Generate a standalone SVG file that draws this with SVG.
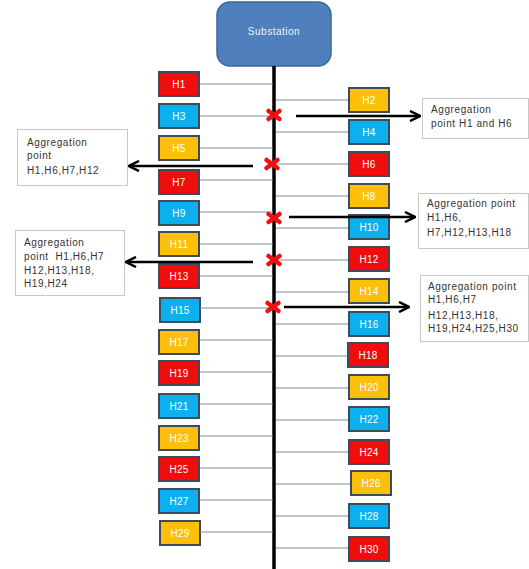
<svg xmlns="http://www.w3.org/2000/svg" width="529" height="569" viewBox="0 0 529 569">
<defs>
<style>
.bx{stroke:#3e4b5b;stroke-width:2}
.r{fill:#f20d0d}.b{fill:#0cb0ee}.y{fill:#fdc00a}
.lbl{font-family:"Liberation Sans",Arial,sans-serif;font-size:10px;fill:#fff;text-anchor:middle;letter-spacing:0.3px}
.fd{stroke:#7a8fa6;stroke-width:1.2;fill:none}
.bus{stroke:#000;stroke-width:3.5;fill:none}
.ar{stroke:#000;stroke-width:2.5;fill:none}
.x{stroke:#f01010;stroke-width:4.5;stroke-linecap:round}
.co{fill:#fff;stroke:#c8c8c8;stroke-width:1}
.ct{font-family:"Liberation Sans",Arial,sans-serif;font-size:10px;fill:#333;letter-spacing:0.6px;white-space:pre}
</style>
<marker id="ah" viewBox="0 0 10 10" refX="9" refY="5" markerWidth="5" markerHeight="5" orient="auto" markerUnits="strokeWidth">
<path d="M1,1 L9,5 L1,9" fill="none" stroke="#000" stroke-width="2"/>
</marker>
</defs>
<rect width="529" height="569" fill="#fff"/>
<g id="substation">
<rect x="217" y="2" width="114" height="64" rx="13" fill="#4f80bd" stroke="#3a6797" stroke-width="1.5"/>
<text x="274" y="35" font-family="Liberation Sans,Arial,sans-serif" font-size="10" fill="#eef3fa" text-anchor="middle" letter-spacing="0.5">Substation</text>
</g>
<g id="H1"><rect class="bx r" x="159" y="72" width="40" height="24"/><text class="lbl" x="179" y="88">H1</text></g>
<g id="H3"><rect class="bx b" x="159" y="104" width="40" height="24"/><text class="lbl" x="179" y="120">H3</text></g>
<g id="H5"><rect class="bx y" x="159" y="136" width="40" height="24"/><text class="lbl" x="179" y="152">H5</text></g>
<g id="H7"><rect class="bx r" x="159" y="170" width="40" height="24"/><text class="lbl" x="179" y="186">H7</text></g>
<g id="H9"><rect class="bx b" x="159" y="201" width="40" height="24"/><text class="lbl" x="179" y="217">H9</text></g>
<g id="H11"><rect class="bx y" x="159" y="232" width="40" height="24"/><text class="lbl" x="179" y="248">H11</text></g>
<g id="H13"><rect class="bx r" x="159" y="264" width="40" height="24"/><text class="lbl" x="179" y="280">H13</text></g>
<g id="H15"><rect class="bx b" x="160" y="298" width="40" height="24"/><text class="lbl" x="180" y="314">H15</text></g>
<g id="H17"><rect class="bx y" x="159" y="330" width="40" height="24"/><text class="lbl" x="179" y="346">H17</text></g>
<g id="H19"><rect class="bx r" x="159" y="361" width="40" height="24"/><text class="lbl" x="179" y="377">H19</text></g>
<g id="H21"><rect class="bx b" x="159" y="394" width="40" height="24"/><text class="lbl" x="179" y="410">H21</text></g>
<g id="H23"><rect class="bx y" x="159" y="426" width="40" height="24"/><text class="lbl" x="179" y="442">H23</text></g>
<g id="H25"><rect class="bx r" x="159" y="457" width="40" height="24"/><text class="lbl" x="179" y="473">H25</text></g>
<g id="H27"><rect class="bx b" x="159" y="489" width="40" height="24"/><text class="lbl" x="179" y="505">H27</text></g>
<g id="H29"><rect class="bx y" x="160" y="521" width="40" height="24"/><text class="lbl" x="180" y="537">H29</text></g>
<g id="H2"><rect class="bx y" x="349" y="88" width="40" height="24"/><text class="lbl" x="369" y="104">H2</text></g>
<g id="H4"><rect class="bx b" x="349" y="120" width="40" height="24"/><text class="lbl" x="369" y="136">H4</text></g>
<g id="H6"><rect class="bx r" x="349" y="152" width="40" height="24"/><text class="lbl" x="369" y="168">H6</text></g>
<g id="H8"><rect class="bx y" x="349" y="184" width="40" height="24"/><text class="lbl" x="369" y="200">H8</text></g>
<g id="H10"><rect class="bx b" x="349" y="215" width="40" height="24"/><text class="lbl" x="369" y="231">H10</text></g>
<g id="H12"><rect class="bx r" x="349" y="247" width="40" height="24"/><text class="lbl" x="369" y="263">H12</text></g>
<g id="H14"><rect class="bx y" x="349" y="279" width="40" height="24"/><text class="lbl" x="369" y="295">H14</text></g>
<g id="H16"><rect class="bx b" x="349" y="312" width="40" height="24"/><text class="lbl" x="369" y="328">H16</text></g>
<g id="H18"><rect class="bx r" x="348" y="343" width="40" height="24"/><text class="lbl" x="368" y="359">H18</text></g>
<g id="H20"><rect class="bx y" x="349" y="375" width="40" height="24"/><text class="lbl" x="369" y="391">H20</text></g>
<g id="H22"><rect class="bx b" x="349" y="407" width="40" height="24"/><text class="lbl" x="369" y="423">H22</text></g>
<g id="H24"><rect class="bx r" x="349" y="440" width="40" height="24"/><text class="lbl" x="369" y="456">H24</text></g>
<g id="H26"><rect class="bx y" x="351" y="471" width="40" height="24"/><text class="lbl" x="371" y="487">H26</text></g>
<g id="H28"><rect class="bx b" x="349" y="504" width="40" height="24"/><text class="lbl" x="369" y="520">H28</text></g>
<g id="H30"><rect class="bx r" x="349" y="537" width="40" height="24"/><text class="lbl" x="369" y="553">H30</text></g>
<g id="callout1"><rect class="co" x="422.5" y="98.5" width="106" height="40"/>
<text class="ct"><tspan x="431" y="113">Aggregation</tspan><tspan x="431" y="127">point H1 and H6</tspan></text></g>
<g id="callout2"><rect class="co" x="17.5" y="129.5" width="110" height="56"/>
<text class="ct"><tspan x="27" y="146">Aggregation</tspan><tspan x="27" y="159">point</tspan><tspan x="27" y="174">H1,H6,H7,H12</tspan></text></g>
<g id="callout3"><rect class="co" x="418.5" y="193.5" width="110" height="55"/>
<text class="ct"><tspan x="427" y="207">Aggregation point</tspan><tspan x="427" y="221">H1,H6,</tspan><tspan x="427" y="236">H7,H12,H13,H18</tspan></text></g>
<g id="callout4"><rect class="co" x="15.5" y="230.5" width="109" height="65"/>
<text class="ct"><tspan x="24" y="246">Aggregation</tspan><tspan x="24" y="260">point  H1,H6,H7</tspan><tspan x="24" y="274">H12,H13,H18,</tspan><tspan x="24" y="287">H19,H24</tspan></text></g>
<g id="callout5"><rect class="co" x="420.5" y="275.5" width="108" height="66"/>
<text class="ct"><tspan x="428" y="290">Aggregation point</tspan><tspan x="428" y="303">H1,H6,H7</tspan><tspan x="428" y="319">H12,H13,H18,</tspan><tspan x="428" y="332">H19,H24,H25,H30</tspan></text></g>
<g id="connectors">
<line class="bus" x1="274" y1="66" x2="274" y2="569"/>
<g id="feeders-left">
<line class="fd" x1="200" y1="84" x2="273" y2="84"/>
<line class="fd" x1="200" y1="116" x2="273" y2="116"/>
<line class="fd" x1="200" y1="148" x2="273" y2="148"/>
<line class="fd" x1="200" y1="180" x2="273" y2="180"/>
<line class="fd" x1="200" y1="212" x2="273" y2="212"/>
<line class="fd" x1="200" y1="244" x2="273" y2="244"/>
<line class="fd" x1="200" y1="276" x2="273" y2="276"/>
<line class="fd" x1="200" y1="308" x2="273" y2="308"/>
<line class="fd" x1="200" y1="340" x2="273" y2="340"/>
<line class="fd" x1="200" y1="372" x2="273" y2="372"/>
<line class="fd" x1="200" y1="404" x2="273" y2="404"/>
<line class="fd" x1="200" y1="436" x2="273" y2="436"/>
<line class="fd" x1="200" y1="468" x2="273" y2="468"/>
<line class="fd" x1="200" y1="500" x2="273" y2="500"/>
<line class="fd" x1="200" y1="532" x2="273" y2="532"/>
</g>
<g id="feeders-right">
<line class="fd" x1="276" y1="100" x2="348" y2="100"/>
<line class="fd" x1="276" y1="132" x2="348" y2="132"/>
<line class="fd" x1="276" y1="164" x2="348" y2="164"/>
<line class="fd" x1="276" y1="196" x2="348" y2="196"/>
<line class="fd" x1="276" y1="228" x2="348" y2="228"/>
<line class="fd" x1="276" y1="260" x2="348" y2="260"/>
<line class="fd" x1="276" y1="292" x2="348" y2="292"/>
<line class="fd" x1="276" y1="324" x2="348" y2="324"/>
<line class="fd" x1="276" y1="356" x2="347" y2="356"/>
<line class="fd" x1="276" y1="388" x2="348" y2="388"/>
<line class="fd" x1="276" y1="420" x2="348" y2="420"/>
<line class="fd" x1="276" y1="452" x2="348" y2="452"/>
<line class="fd" x1="276" y1="484" x2="350" y2="484"/>
<line class="fd" x1="276" y1="516" x2="348" y2="516"/>
<line class="fd" x1="276" y1="548" x2="348" y2="548"/>
</g>
<g id="arrows">
<line class="ar" x1="296" y1="116" x2="420" y2="116" marker-end="url(#ah)"/>
<line class="ar" x1="253" y1="166" x2="129" y2="166" marker-end="url(#ah)"/>
<line class="ar" x1="289" y1="217" x2="415" y2="217" marker-end="url(#ah)"/>
<line class="ar" x1="253" y1="262" x2="126" y2="262" marker-end="url(#ah)"/>
<line class="ar" x1="284" y1="307" x2="409" y2="307" marker-end="url(#ah)"/>
</g>
</g>
<g id="breaks">
<g transform="translate(274,115)"><line class="x" x1="-5.5" y1="-4" x2="5.5" y2="4"/><line class="x" x1="-5.5" y1="4" x2="5.5" y2="-4"/></g>
<g transform="translate(272,164)"><line class="x" x1="-5.5" y1="-4" x2="5.5" y2="4"/><line class="x" x1="-5.5" y1="4" x2="5.5" y2="-4"/></g>
<g transform="translate(274,218)"><line class="x" x1="-5.5" y1="-4" x2="5.5" y2="4"/><line class="x" x1="-5.5" y1="4" x2="5.5" y2="-4"/></g>
<g transform="translate(274,260)"><line class="x" x1="-5.5" y1="-4" x2="5.5" y2="4"/><line class="x" x1="-5.5" y1="4" x2="5.5" y2="-4"/></g>
<g transform="translate(273,307)"><line class="x" x1="-5.5" y1="-4" x2="5.5" y2="4"/><line class="x" x1="-5.5" y1="4" x2="5.5" y2="-4"/></g>
</g>
</svg>
